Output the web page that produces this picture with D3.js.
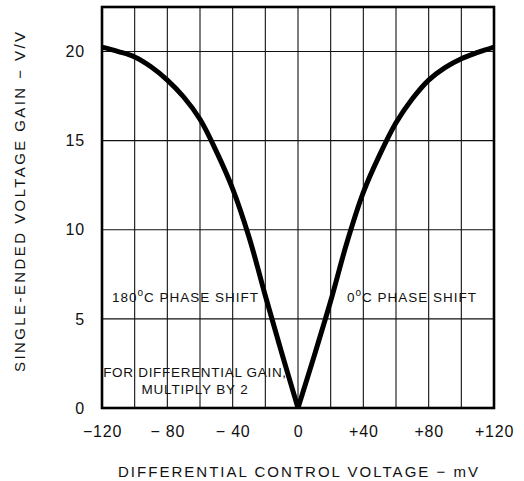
<!DOCTYPE html>
<html><head><meta charset="utf-8">
<script src="https://cdn.jsdelivr.net/npm/d3@7"></script>
<style>
html,body{margin:0;padding:0;background:#fff;}
text{font-family:"Liberation Sans",Arial,sans-serif;fill:#111;}
</style></head>
<body><svg id="c" width="524" height="481"></svg>
<script>
// Data
const leftX  = [-120,-110,-100,-90,-80,-70,-60,-50,-40,-30,-20,-10,0];
const leftY  = [20.25,20.0,19.7,19.15,18.4,17.45,16.2,14.4,12.3,9.6,6.3,3.1,0];
const rightX = [0,10,20,30,40,50,60,70,80,90,100,110,120];
const rightY = [0,2.95,6.0,9.3,12.1,14.2,16.0,17.35,18.4,19.1,19.6,19.95,20.25];
const xTicks = [-120,-80,-40,0,40,80,120];
const xTickLabels = ["\u2212120","\u2212 80","\u2212 40","0","+40","+80","+120"];
const xGrid = [-100,-80,-60,-40,-20,0,20,40,60,80,100];
const yTicks = [0,5,10,15,20];
const yTickLabels = ["0","5","10","15","20"];
const yGrid = [5,10,15,20];
const xTitle = "DIFFERENTIAL CONTROL VOLTAGE \u2212 mV";
const yTitle = "SINGLE-ENDED VOLTAGE GAIN \u2212 V/V";

const svg = d3.select("#c");
const x = d3.scaleLinear().domain([-120,120]).range([102,494]);
const y = d3.scaleLinear().domain([0,22.5]).range([408,7]);

// grid
svg.append("g").selectAll("line").data(xGrid).join("line")
  .attr("x1",d=>x(d)).attr("x2",d=>x(d)).attr("y1",y(22.5)).attr("y2",y(0))
  .attr("stroke","#111").attr("stroke-width",1.1);
svg.append("g").selectAll("line").data(yGrid).join("line")
  .attr("x1",x(-120)).attr("x2",x(120)).attr("y1",d=>y(d)).attr("y2",d=>y(d))
  .attr("stroke","#111").attr("stroke-width",1.1);

// frame
svg.append("rect").attr("x",x(-120)).attr("y",y(22.5))
  .attr("width",x(120)-x(-120)).attr("height",y(0)-y(22.5))
  .attr("fill","none").attr("stroke","#000").attr("stroke-width",2.6);

// axes labels
const xAxis = d3.axisBottom(x).tickValues(xTicks).tickSize(0).tickPadding(18)
  .tickFormat((d,i)=>xTickLabels[i]);
const gx = svg.append("g").attr("transform",`translate(0,${y(0)})`).call(xAxis);
gx.select(".domain").remove();
gx.selectAll("text").style("font-size","16px").attr("fill","#111").attr("letter-spacing","0.8");

const yAxis = d3.axisLeft(y).tickValues(yTicks).tickSize(0).tickPadding(17)
  .tickFormat((d,i)=>yTickLabels[i]);
const gy = svg.append("g").attr("transform",`translate(${x(-120)},0)`).call(yAxis);
gy.select(".domain").remove();
gy.selectAll("text").style("font-size","16px").attr("fill","#111").attr("letter-spacing","0.8");

// curves
const line = d3.line().x(d=>x(d[0])).y(d=>y(d[1])).curve(d3.curveCatmullRom.alpha(0.5));
svg.append("path").datum(leftX.map((v,i)=>[v,leftY[i]]))
  .attr("d",line).attr("fill","none").attr("stroke","#000").attr("stroke-width",5).attr("stroke-linejoin","round");
svg.append("path").datum(rightX.map((v,i)=>[v,rightY[i]]))
  .attr("d",line).attr("fill","none").attr("stroke","#000").attr("stroke-width",5).attr("stroke-linejoin","round");

// titles
svg.append("text").attr("x",(x(-120)+x(120))/2).attr("y",477)
  .attr("text-anchor","middle").style("font-size","15px")
  .attr("textLength",360).attr("lengthAdjust","spacing").text(xTitle);
svg.append("text").attr("transform",`translate(25,202) rotate(-90)`)
  .attr("text-anchor","middle").style("font-size","15px")
  .attr("textLength",340).attr("lengthAdjust","spacing").text(yTitle);

// annotations
function phase(xp, yp, deg){
  const t = svg.append("text").attr("x",xp).attr("y",yp).style("font-size","13.5px")
    .attr("letter-spacing","1");
  t.append("tspan").text(deg);
  t.append("tspan").attr("dy",-6).style("font-size","10px").text("o");
  t.append("tspan").attr("dy",6).text("C PHASE SHIFT");
}
phase(112, 302, "180");
phase(347, 302, "0");
svg.append("text").attr("x",195).attr("y",377).attr("text-anchor","middle")
  .style("font-size","13.5px").attr("letter-spacing","0.7").text("FOR DIFFERENTIAL GAIN,");
svg.append("text").attr("x",195).attr("y",394).attr("text-anchor","middle")
  .style("font-size","13.5px").attr("letter-spacing","0.8").text("MULTIPLY BY 2");
</script></body></html>
